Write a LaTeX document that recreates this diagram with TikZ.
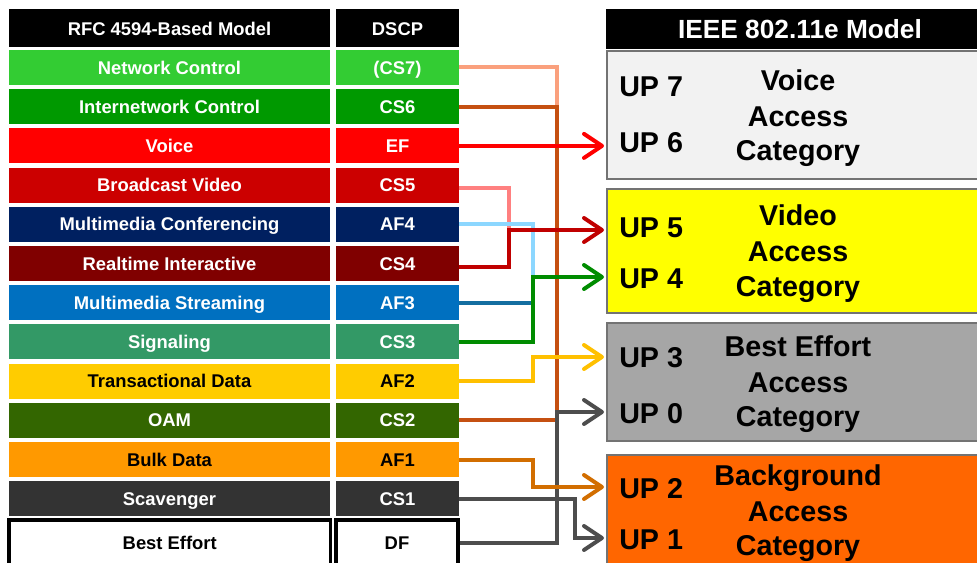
\documentclass[tikz,border=0pt]{standalone}
\usepackage{fontspec}
\setmainfont{Liberation Sans}
\usetikzlibrary{arrows.meta}
% row fills
\definecolor{cNC}{RGB}{51,204,51}
\definecolor{cIC}{RGB}{0,153,0}
\definecolor{cVO}{RGB}{255,0,0}
\definecolor{cBV}{RGB}{204,0,0}
\definecolor{cMC}{RGB}{0,32,96}
\definecolor{cRI}{RGB}{128,0,0}
\definecolor{cMS}{RGB}{0,112,192}
\definecolor{cSG}{RGB}{51,153,102}
\definecolor{cTD}{RGB}{255,204,0}
\definecolor{cOA}{RGB}{51,102,0}
\definecolor{cBD}{RGB}{255,153,0}
\definecolor{cSC}{RGB}{51,51,51}
% access category fills
\definecolor{acVoice}{RGB}{242,242,242}
\definecolor{acVideo}{RGB}{255,255,0}
\definecolor{acBest}{RGB}{166,166,166}
\definecolor{acBack}{RGB}{255,102,0}
\definecolor{acBorder}{RGB}{115,115,115}
% connector colours
\definecolor{lCSseven}{RGB}{250,160,125}
\definecolor{lCSsix}{RGB}{197,80,17}
\definecolor{lEF}{RGB}{255,0,0}
\definecolor{lCSfive}{RGB}{255,128,128}
\definecolor{lAFfour}{RGB}{140,215,255}
\definecolor{lCSfour}{RGB}{192,0,0}
\definecolor{lAFthree}{RGB}{20,110,160}
\definecolor{lCSthree}{RGB}{0,140,0}
\definecolor{lAFtwo}{RGB}{255,192,0}
\definecolor{lAFone}{RGB}{210,110,0}
\definecolor{lGray}{RGB}{77,77,77}
\begin{document}
\begin{tikzpicture}[x=0.75pt,y=-0.75pt,
  rowbox/.style={rectangle, inner sep=0pt, minimum height=26.25pt,
    text height=9.9pt, text depth=0pt,
    font=\fontsize{13.8}{16}\selectfont\bfseries},
  namebox/.style={rowbox, minimum width=240.75pt},
  dscpbox/.style={rowbox, minimum width=92.25pt},
  conn/.style={line width=3pt},
  arr/.style={conn, -{Straight Barb[length=13.5pt,width=18pt,round]}},
  acbox/.style={rectangle, draw=acBorder, line width=1.5pt, anchor=north west,
    inner sep=0pt, minimum width=288pt},
  bigtext/.style={inner sep=0pt, text height=15.4pt, text depth=0pt,
    font=\fontsize{21.5}{24}\selectfont\bfseries},
  uplab/.style={bigtext, anchor=west},
  catlab/.style={bigtext},
]
\useasboundingbox (0,0) rectangle (977,563);
\clip (0,0) rectangle (977,563);
\fill[white] (0,0) rectangle (977,563);

% ---------- left table ----------
\node[namebox, fill=black, text=white, minimum height=28.5pt] (h1) at (169.5,28.5) {RFC 4594-Based Model};
\node[dscpbox, fill=black, text=white, minimum height=28.5pt] (h2) at (397.5,28.5) {DSCP};

\foreach \i/\lab/\ds/\fc/\tc in {
  1/Network Control/{(CS7)}/cNC/white,
  2/Internetwork Control/CS6/cIC/white,
  3/Voice/EF/cVO/white,
  4/Broadcast Video/CS5/cBV/white,
  5/Multimedia Conferencing/AF4/cMC/white,
  6/Realtime Interactive/CS4/cRI/white,
  7/Multimedia Streaming/AF3/cMS/white,
  8/Signaling/CS3/cSG/white,
  9/Transactional Data/AF2/cTD/black,
  10/OAM/CS2/cOA/white,
  11/Bulk Data/AF1/cBD/black,
  12/Scavenger/CS1/cSC/white}{
  \pgfmathsetmacro\yc{67.5+(\i-1)*39.2}
  \node[namebox, fill=\fc, text=\tc] (r\i) at (169.5,\yc) {\lab};
  \node[dscpbox, fill=\fc, text=\tc] (d\i) at (397.5,\yc) {\ds};
}
\node[namebox, fill=white, draw=black, line width=2.5pt, minimum width=241pt, minimum height=34.5pt] (r13) at (169.75,543) {Best Effort};
\node[dscpbox, fill=white, draw=black, line width=2.5pt, minimum width=91.5pt, minimum height=34.5pt] (d13) at (397,543) {DF};

% ---------- right model ----------
\node[acbox, draw=black, fill=black, text=white, anchor=north west, minimum width=289.5pt, minimum height=28.5pt,
  text height=14.1pt, text depth=0pt, font=\fontsize{19.7}{22}\selectfont\bfseries] (ieee) at (606,9) {IEEE 802.11e Model};

\node[acbox, fill=acVoice, minimum height=96pt] (vbox) at (606,50) {};
\node[acbox, fill=acVideo, minimum height=93pt] (vidbox) at (606,188) {};
\node[acbox, fill=acBest, minimum height=88.5pt] (bebox) at (606,322) {};
\node[acbox, fill=acBack, minimum height=102pt] (bkbox) at (606,454) {};

\node[uplab] (u7) at (619,86) {UP 7};
\node[uplab] (u6) at (619,142) {UP 6};
\node[uplab] (u5) at (619,227) {UP 5};
\node[uplab] (u4) at (619,278) {UP 4};
\node[uplab] (u3) at (619,357) {UP 3};
\node[uplab] (u0) at (619,413) {UP 0};
\node[uplab] (u2) at (619,488) {UP 2};
\node[uplab] (u1) at (619,539) {UP 1};

\node[catlab] (va) at (798,80) {Voice};
\node[catlab] (vb) at (798,116) {Access};
\node[catlab] (vc) at (798,150) {Category};
\node[catlab] (ida) at (798,215) {Video};
\node[catlab] (idb) at (798,251) {Access};
\node[catlab] (idc) at (798,286) {Category};
\node[catlab] (bea) at (798,346) {Best Effort};
\node[catlab] (beb) at (798,382) {Access};
\node[catlab] (bec) at (798,416) {Category};
\node[catlab] (bka) at (798,475) {Background};
\node[catlab] (bkb) at (798,511) {Access};
\node[catlab] (bkc) at (798,545) {Category};

% ---------- connectors ----------
\coordinate (xa) at (509,0);
\coordinate (xb) at (533,0);
\coordinate (xc) at (557,0);
\coordinate (xd) at (575,0);
\coordinate (xt) at (604,0);
\coordinate (t5) at (604,230);
\coordinate (t4) at (604,277);
\coordinate (t3) at (604,357);
\coordinate (t0) at (604,412);
\coordinate (t2) at (604,487);
\coordinate (t1) at (604,538);

\draw[conn, lCSseven] (d1.east) -| (xc |- d2.east);
\draw[conn, lCSfive] ([yshift=-2.25pt]d4.east) -| (xa |- t5);
\draw[conn, lAFfour] (d5.east) -| (xb |- t4);
\draw[conn, lAFthree] (d7.east) -- (xb |- d7.east);
\draw[conn, lCSsix] (d2.east) -| (xc |- d10.east) -- (d10.east);
\draw[arr, lEF] (d3.east) -- (d3.east -| xt);
\draw[arr, lCSfour] ([yshift=-2.6pt]d6.east) -| (xa |- t5) -- (t5);
\draw[arr, lCSthree] (d8.east) -| (xb |- t4) -- (t4);
\draw[arr, lAFtwo] (d9.east) -| (xb |- t3) -- (t3);
\draw[arr, lGray] (d13.east) -| (xc |- t0) -- (t0);
\draw[arr, lAFone] (d11.east) -| (xb |- t2) -- (t2);
\draw[arr, lGray] (d12.east) -| (xd |- t1) -- (t1);
\end{tikzpicture}
\end{document}
